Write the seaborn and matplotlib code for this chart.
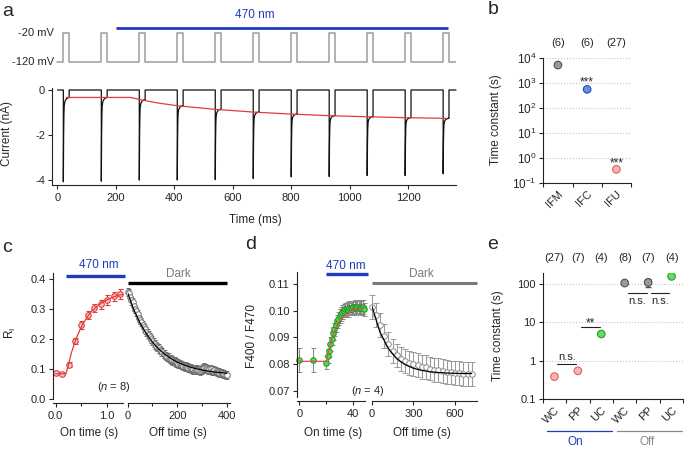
import matplotlib
matplotlib.use("Agg")
import matplotlib.pyplot as plt
import seaborn as sns
import pandas as pd

# ---------------- data ----------------
# a: voltage steps and current trace
pulse_t = [20, 150, 280, 410, 540, 670, 800, 930, 1060, 1190, 1320]
pulse_w = 20
pulse_peak = [-4.08, -4.05, -4.0, -4.0, -3.98, -3.93, -3.86, -3.84, -3.8, -3.8, -3.72]
pulse_level = [-0.34, -0.34, -0.43, -0.70, -0.86, -0.98, -1.07, -1.14, -1.19, -1.23, -1.26]
spike_dt = [0, 1, 2, 3, 5, 8, 12, 18]
spike_frac = [1, 0.45, 0.2, 0.1, 0.05, 0.025, 0.01, 0]
fit_a_t = [30, 250, 280, 340, 410, 540, 670, 800, 930, 1060, 1190, 1330]
fit_a_v = [-0.33, -0.33, -0.42, -0.57, -0.70, -0.86, -0.98, -1.07, -1.14, -1.19, -1.23, -1.26]

# b
b_cats = ["IFM", "IFC", "IFU"]
b_tau = [5100, 550, 0.36]
b_n = ["(6)", "(6)", "(27)"]

# c
c_on_t = [0, 0.125, 0.25, 0.375, 0.5, 0.625, 0.75, 0.875, 1.0, 1.125, 1.25]
c_on_v = [0.087, 0.083, 0.113, 0.194, 0.246, 0.280, 0.302, 0.315, 0.330, 0.341, 0.349]
c_on_err = [0.005, 0.004, 0.008, 0.010, 0.012, 0.014, 0.014, 0.015, 0.016, 0.016, 0.017]
c_on_fit_t = [0, 0.2, 0.25, 0.3, 0.4, 0.5, 0.6, 0.7, 0.8, 0.9, 1.0, 1.1, 1.2, 1.3]
c_on_fit_v = [0.083, 0.083, 0.113, 0.150, 0.202, 0.240, 0.270, 0.292, 0.308, 0.320, 0.330, 0.338, 0.344, 0.348]
c_off_t = list(range(0, 401, 5))
c_off_v = [0.355, 0.352, 0.340, 0.328, 0.322, 0.308, 0.300, 0.291, 0.281, 0.270,
           0.262, 0.255, 0.246, 0.238, 0.232, 0.224, 0.217, 0.212, 0.205, 0.199,
           0.194, 0.187, 0.181, 0.176, 0.172, 0.168, 0.163, 0.158, 0.155, 0.150,
           0.147, 0.143, 0.140, 0.137, 0.133, 0.131, 0.128, 0.126, 0.124, 0.121,
           0.119, 0.117, 0.115, 0.113, 0.112, 0.110, 0.108, 0.107, 0.105, 0.104,
           0.103, 0.101, 0.100, 0.098, 0.097, 0.096, 0.097, 0.095, 0.094, 0.096,
           0.098, 0.101, 0.104, 0.102, 0.099, 0.097, 0.100, 0.098, 0.094, 0.093,
           0.095, 0.092, 0.090, 0.089, 0.087, 0.086, 0.085, 0.083, 0.082, 0.080, 0.079]
c_off_err = 0.014
c_off_fit_t = [0, 25, 50, 75, 100, 125, 150, 175, 200, 225, 250, 275, 300, 325, 350, 375, 400]
c_off_fit_v = [0.352, 0.296, 0.252, 0.217, 0.188, 0.166, 0.148, 0.134, 0.122, 0.1135,
               0.106, 0.1005, 0.096, 0.092, 0.089, 0.087, 0.085]

# d
d_on_t = [0, 10] + list(range(20, 49))
d_on_v = [0.0815, 0.0815,
          0.0805, 0.0830, 0.0850, 0.0875, 0.0895, 0.0915, 0.0930, 0.0945, 0.0960, 0.0970,
          0.0980, 0.0988, 0.0995, 0.1000, 0.1005, 0.1008, 0.1003, 0.1010, 0.1012, 0.1008,
          0.1013, 0.1015, 0.1010, 0.1016, 0.1012, 0.1015, 0.1010, 0.1014, 0.1006]
d_on_err = [0.0044, 0.0044] + [0.0025] * 29
d_on_fit_t = [0, 20, 22, 24, 26, 28, 30, 33, 36, 40, 44, 48]
d_on_fit_v = [0.081, 0.081, 0.0855, 0.0893, 0.0922, 0.0945, 0.0962, 0.0980, 0.0993, 0.1003, 0.1008, 0.1010]
d_off_t = list(range(0, 721, 30))
d_off_v = [0.1015, 0.0985, 0.0945, 0.0905, 0.0875, 0.0850, 0.0832, 0.0818, 0.0810, 0.0805,
           0.0800, 0.0795, 0.0790, 0.0787, 0.0783, 0.0779, 0.0776, 0.0773, 0.0770, 0.0768,
           0.0766, 0.0765, 0.0764, 0.0764, 0.0763]
d_off_err = 0.0045
d_off_fit_t = [0, 60, 120, 180, 240, 300, 360, 420, 480, 540, 600, 660, 720]
d_off_fit_v = [0.1020, 0.0919, 0.0858, 0.0820, 0.0798, 0.0784, 0.0776, 0.0771, 0.0768,
               0.0766, 0.0765, 0.0764, 0.0764]

# e
e_cats = ["WC", "PP", "UC", "WC", "PP", "UC"]
e_tau = [0.39, 0.55, 5.0, 106, 110, 158]
e_err = [0, 0, 0, 0, 28, 0]
e_group = ["pink", "pink", "green", "gray", "gray", "green"]
e_n = ["(27)", "(7)", "(4)", "(8)", "(7)", "(4)"]

# ---------------- style ----------------
sns.set_style("ticks")
plt.rcParams["font.family"] = ["Liberation Sans", "DejaVu Sans"]
plt.rcParams.update({
    "font.size": 8,
    "axes.unicode_minus": False,
    "mathtext.fontset": "custom",
    "mathtext.rm": "Liberation Sans",
    "mathtext.it": "Liberation Sans:italic",
    "axes.linewidth": 0.8,
    "axes.edgecolor": "#222222",
    "xtick.major.size": 3, "ytick.major.size": 3,
    "xtick.minor.size": 2, "ytick.minor.size": 2,
    "xtick.major.width": 0.8, "ytick.major.width": 0.8,
    "xtick.minor.width": 0.8, "ytick.minor.width": 0.8,
    "xtick.major.pad": 2.5, "ytick.major.pad": 2,
    "xtick.labelsize": 8, "ytick.labelsize": 8,
})

BLUE = "#1f3bbf"
RED = "#e23b3b"
GRAY = "#8a8a8a"
face = {"gray": "#9a9a9a", "blue": "#6a8cf0", "pink": "#f6b4b4", "green": "#5ee05e"}
edge = {"gray": "#505050", "blue": "#2a4ab0", "pink": "#e06060", "green": "#2f9a2f"}

W, H = 685, 450
fig = plt.figure(figsize=(6.85, 4.5), dpi=100)


def add_ax(l, t, r, b):
    ax = fig.add_axes([l / W, 1 - b / H, (r - l) / W, (b - t) / H])
    ax.patch.set_visible(False)
    return ax


def ftext(x, y, s, **kw):
    fig.text(x / W, 1 - y / H, s, **kw)


# ---------------- panel a ----------------
v_t, v_v = [0], [-120]
for t0 in pulse_t:
    v_t += [t0, t0, t0 + pulse_w, t0 + pulse_w]
    v_v += [-120, -20, -20, -120]
v_t.append(1364)
v_v.append(-120)

cur_t, cur_v = [0], [0]
for t0, pk, lv in zip(pulse_t, pulse_peak, pulse_level):
    cur_t.append(t0)
    cur_v.append(0)
    for dt, f in zip(spike_dt, spike_frac):
        cur_t.append(t0 + dt)
        cur_v.append(lv + (pk - lv) * f)
    cur_t += [t0 + pulse_w, t0 + pulse_w]
    cur_v += [lv, 0]
cur_t.append(1364)
cur_v.append(0)

ax_v = add_ax(52, 8, 456, 70)
sns.lineplot(x=v_t, y=v_v, sort=False, estimator=None, color="#9c9c9c", lw=1.1, ax=ax_v)
ax_v.plot([200, 1338], [-4, -4], color=BLUE, lw=2, solid_capstyle="butt")
ax_v.text(677, 42, "470 nm", color=BLUE, ha="center", va="center", fontsize=8.5)
ax_v.text(-13, -20, "-20 mV", ha="right", va="center", fontsize=8)
ax_v.text(-13, -120, "-120 mV", ha="right", va="center", fontsize=8)
ax_v.set_xlim(-18.8, 1364)
ax_v.set_ylim(-147.6, 66)
ax_v.axis("off")

ax_i = add_ax(52, 88.3, 456, 185)
sns.lineplot(x=cur_t, y=cur_v, sort=False, estimator=None, color="#111111", lw=0.9, ax=ax_i)
sns.lineplot(x=fit_a_t, y=fit_a_v, sort=False, estimator=None, color=RED, lw=0.9, ax=ax_i)
for ln in ax_i.lines:
    ln.set_clip_on(False)
ax_i.set_xlim(-18.8, 1364)
ax_i.set_ylim(-4.22, 0.075)
ax_i.set_xticks(range(0, 1201, 200))
ax_i.set_yticks([0, -2, -4])
ax_i.set_xlabel("")
ax_i.set_ylabel("")
sns.despine(ax=ax_i)
ftext(255, 220, "Time (ms)", ha="center", va="center", fontsize=8.5)
ftext(7, 133, "Current (nA)", ha="center", va="center", rotation=90, fontsize=8.5)

# ---------------- panel b ----------------
ax_b = add_ax(543.3, 57.7, 631, 183.3)
df_b = pd.DataFrame({"x": range(3), "tau": b_tau, "cat": b_cats})
sns.scatterplot(data=df_b, x="x", y="tau", hue="cat",
                palette=[face["gray"], face["blue"], face["pink"]],
                edgecolor=[edge["gray"], edge["blue"], edge["pink"]],
                s=30, linewidth=0.8, legend=False, zorder=3, ax=ax_b)
ax_b.set_yscale("log")
ax_b.set_ylim(0.1, 1e4)
ax_b.set_xlim(-0.5, 2.5)
ax_b.yaxis.set_minor_locator(matplotlib.ticker.NullLocator())
ax_b.set_yticks([0.1, 1, 10, 100, 1000, 10000])
ax_b.tick_params(axis="y", labelsize=8.5)
ax_b.grid(axis="y", which="major", ls=":", color="#c4c4c4", lw=0.8)
ax_b.set_xticks([-0.5, 0.5, 1.5, 2.5])
ax_b.set_xticklabels([])
ax_b.set_xticks(range(3), minor=True)
ax_b.set_xticklabels(b_cats, minor=True, rotation=45, ha="right", va="top",
                     rotation_mode="anchor")
ax_b.tick_params(axis="x", which="minor", length=0, pad=4)
ax_b.set_xlabel("")
ax_b.set_ylabel("")
sns.despine(ax=ax_b)
for i, s in enumerate(b_n):
    ax_b.text(i, 1.115, s, transform=ax_b.get_xaxis_transform(), ha="center", va="center", fontsize=8)
ax_b.text(1, 810, "***", ha="center", va="baseline", fontsize=8.5)
ax_b.text(2, 0.47, "***", ha="center", va="baseline", fontsize=8.5)
ftext(496, 120, "Time constant (s)", ha="center", va="center", rotation=90, fontsize=8.5)

# ---------------- panel c ----------------
ax_con = add_ax(52.5, 273.3, 123.3, 398.7)
ax_con.errorbar(c_on_t, c_on_v, yerr=c_on_err, fmt="o", ms=4, mfc="#f9caca", mec=RED,
                mew=0.8, ecolor=RED, elinewidth=0.8, capsize=1.8, clip_on=False, zorder=2)
sns.lineplot(x=c_on_fit_t, y=c_on_fit_v, sort=False, estimator=None, color=RED, lw=0.9,
             zorder=3, ax=ax_con)
ax_con.set_xlim(-0.06, 1.31)
ax_con.set_ylim(0, 0.418)
ax_con.set_yticks([0, 0.1, 0.2, 0.3, 0.4])
ax_con.set_yticklabels(["0.0", "0.1", "0.2", "0.3", "0.4"])
ax_con.set_xticks([0, 1.0])
ax_con.set_xticklabels(["0.0", "1.0"])
ax_con.set_xticks([0.5], minor=True)
ax_con.spines["bottom"].set_position(("outward", 3))
ax_con.set_xlabel("")
ax_con.set_ylabel("")
sns.despine(ax=ax_con)
ax_con.plot([0.21, 1.34], [0.41, 0.41], color=BLUE, lw=2.4, clip_on=False, solid_capstyle="butt")
ax_con.text(0.84, 0.445, "470 nm", color=BLUE, ha="center", va="center", fontsize=8.5)
ax_con.text(1.12, 0.04, "($n$ = 8)", ha="center", va="center", fontsize=8)

ax_coff = add_ax(127.7, 273.3, 230, 398.7)
ax_coff.errorbar(c_off_t, c_off_v, yerr=c_off_err, fmt="o", ms=4, mfc="white", mec="#6e6e6e",
                 mew=0.7, ecolor="#6e6e6e", elinewidth=0.7, capsize=1.5, clip_on=False, zorder=2)
sns.lineplot(x=c_off_fit_t, y=c_off_fit_v, sort=False, estimator=None, color="black", lw=0.9,
             zorder=3, ax=ax_coff)
ax_coff.set_xlim(0, 413)
ax_coff.set_ylim(0, 0.418)
ax_coff.set_xticks([0, 200, 400])
ax_coff.set_xticks([100, 300], minor=True)
ax_coff.set_yticks([])
ax_coff.spines["bottom"].set_position(("outward", 3))
ax_coff.set_xlabel("")
ax_coff.set_ylabel("")
sns.despine(ax=ax_coff, left=True)
ax_coff.plot([0, 400], [0.386, 0.386], color="black", lw=2.4, clip_on=False, solid_capstyle="butt")
ax_coff.text(203, 0.415, "Dark", color="#7a7a7a", ha="center", va="center", fontsize=8.5)
ftext(89, 433, "On time (s)", ha="center", va="center", fontsize=8.5)
ftext(178, 433, "Off time (s)", ha="center", va="center", fontsize=8.5)
ftext(10, 333, r"R$_\mathregular{I}$", ha="center", va="center", rotation=90, fontsize=8.5)

# ---------------- panel d ----------------
ax_don = add_ax(296.7, 271.7, 365, 396.7)
ax_don.errorbar(d_on_t, d_on_v, yerr=d_on_err, fmt="o", ms=4, mfc="#4ade4a", mec="#2a8a2a",
                mew=0.7, ecolor="#8a8a8a", elinewidth=0.8, capsize=1.8, clip_on=False, zorder=2)
sns.lineplot(x=d_on_fit_t, y=d_on_fit_v, sort=False, estimator=None, color="#d9534f", lw=0.9,
             zorder=3, ax=ax_don)
ax_don.set_xlim(-1.9, 48.7)
ax_don.set_ylim(0.0677, 0.1147)
ax_don.set_yticks([0.07, 0.08, 0.09, 0.10, 0.11])
ax_don.set_yticklabels(["0.07", "0.08", "0.09", "0.10", "0.11"])
ax_don.set_xticks([0, 40])
ax_don.set_xticks([20], minor=True)
ax_don.spines["bottom"].set_position(("outward", 3))
ax_don.set_xlabel("")
ax_don.set_ylabel("")
sns.despine(ax=ax_don)
ax_don.plot([19.8, 51], [0.1138, 0.1138], color=BLUE, lw=2.4, clip_on=False, solid_capstyle="butt")
ax_don.text(34.4, 0.1168, "470 nm", color=BLUE, ha="center", va="center", fontsize=8.5)
ax_don.text(51, 0.0698, "($n$ = 4)", ha="center", va="center", fontsize=8)

ax_doff = add_ax(371.7, 271.7, 476.7, 396.7)
ax_doff.errorbar(d_off_t, d_off_v, yerr=d_off_err, fmt="o", ms=4, mfc="white", mec="#8c8c8c",
                 mew=0.7, ecolor="#9a9a9a", elinewidth=0.8, capsize=2, clip_on=False, zorder=2)
sns.lineplot(x=d_off_fit_t, y=d_off_fit_v, sort=False, estimator=None, color="black", lw=0.9,
             zorder=3, ax=ax_doff)
ax_doff.set_xlim(0, 756)
ax_doff.set_ylim(0.0677, 0.1147)
ax_doff.set_xticks([0, 300, 600])
ax_doff.set_yticks([])
ax_doff.spines["bottom"].set_position(("outward", 3))
ax_doff.set_xlabel("")
ax_doff.set_ylabel("")
sns.despine(ax=ax_doff, left=True)
ax_doff.plot([0, 756], [0.1106, 0.1106], color="#7a7a7a", lw=2.2, clip_on=False, solid_capstyle="butt")
ax_doff.text(360, 0.1138, "Dark", color="#7a7a7a", ha="center", va="center", fontsize=8.5)
ftext(333, 433, "On time (s)", ha="center", va="center", fontsize=8.5)
ftext(421.7, 433, "Off time (s)", ha="center", va="center", fontsize=8.5)
ftext(252, 336, "F400 / F470", ha="center", va="center", rotation=90, fontsize=8.5)

# ---------------- panel e ----------------
ax_e = add_ax(542.7, 273.3, 683.3, 399.3)
df_e = pd.DataFrame({"x": range(6), "tau": e_tau, "grp": e_group})
ax_e.errorbar([4], [e_tau[4]], yerr=[e_err[4]], fmt="none", ecolor="#505050", elinewidth=0.8,
              capsize=2, zorder=2)
sns.scatterplot(data=df_e, x="x", y="tau", hue="grp", palette=face,
                edgecolor=[edge[g] for g in e_group], s=30, linewidth=0.8,
                legend=False, zorder=3, ax=ax_e)
ax_e.set_yscale("log")
ax_e.set_ylim(0.1, 190)
ax_e.set_xlim(-0.5, 5.5)
ax_e.yaxis.set_minor_locator(matplotlib.ticker.NullLocator())
ax_e.set_yticks([0.1, 1, 10, 100])
ax_e.set_yticklabels(["0.1", "1", "10", "100"])
ax_e.grid(axis="y", which="major", ls=":", color="#c4c4c4", lw=0.8)
ax_e.set_xticks([i - 0.5 for i in range(7)])
ax_e.set_xticklabels([])
ax_e.set_xticks(range(6), minor=True)
ax_e.set_xticklabels(e_cats, minor=True, rotation=45, ha="right", va="top", rotation_mode="anchor")
ax_e.tick_params(axis="x", which="minor", length=0, pad=4)
ax_e.set_xlabel("")
ax_e.set_ylabel("")
sns.despine(ax=ax_e)
for i, s in enumerate(e_n):
    ax_e.text(i, 1.119, s, transform=ax_e.get_xaxis_transform(), ha="center", va="center", fontsize=8)
# significance marks
ax_e.plot([0.13, 0.93], [0.835, 0.835], color="#222222", lw=0.8)
ax_e.text(0.53, 0.95, "n.s.", ha="center", va="bottom", fontsize=8)
ax_e.plot([1.13, 1.93], [7.55, 7.55], color="#222222", lw=0.8)
ax_e.text(1.53, 7.9, "**", ha="center", va="baseline", fontsize=8.5)
ax_e.plot([3.13, 3.93], [58, 58], color="#222222", lw=0.8)
ax_e.text(3.53, 49, "n.s.", ha="center", va="top", fontsize=8)
ax_e.plot([4.13, 4.91], [58, 58], color="#222222", lw=0.8)
ax_e.text(4.52, 49, "n.s.", ha="center", va="top", fontsize=8)
# On / Off groups
tr = ax_e.get_xaxis_transform()
ax_e.plot([-0.32, 2.46], [-0.249, -0.249], color=BLUE, lw=0.9, transform=tr, clip_on=False)
ax_e.plot([2.67, 5.44], [-0.249, -0.249], color=GRAY, lw=0.9, transform=tr, clip_on=False)
ax_e.text(0.9, -0.34, "On", color=BLUE, ha="center", va="center", fontsize=8.5, transform=tr)
ax_e.text(3.95, -0.34, "Off", color=GRAY, ha="center", va="center", fontsize=8.5, transform=tr)
ftext(498, 336, "Time constant (s)", ha="center", va="center", rotation=90, fontsize=8.5)

# panel letters
for x, y, s in [(8, 12, "a"), (493, 10, "b"), (7, 247, "c"), (251, 245, "d"), (493, 245, "e")]:
    ftext(x, y, s, ha="center", va="center", fontsize=14)

fig.savefig("out.png", dpi=100)
